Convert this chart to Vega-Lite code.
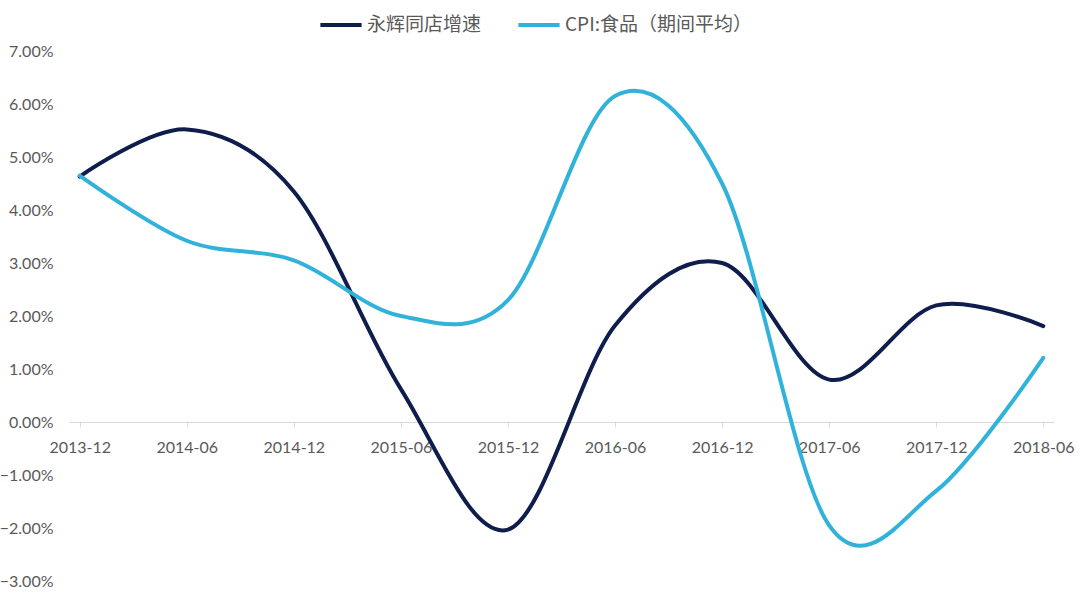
{
  "$schema": "https://vega.github.io/schema/vega-lite/v6.json",
  "autosize": "none",
  "width": 985,
  "height": 530,
  "padding": {"left": 69, "top": 51, "right": 26, "bottom": 34},
  "background": "white",
  "data": {
    "values": [
      {"period": "2013-12", "series": "永辉同店增速", "value": 4.63},
      {"period": "2014-06", "series": "永辉同店增速", "value": 5.52},
      {"period": "2014-12", "series": "永辉同店增速", "value": 4.35},
      {"period": "2015-06", "series": "永辉同店增速", "value": 0.62},
      {"period": "2015-12", "series": "永辉同店增速", "value": -2.03},
      {"period": "2016-06", "series": "永辉同店增速", "value": 1.82},
      {"period": "2016-12", "series": "永辉同店增速", "value": 3.0},
      {"period": "2017-06", "series": "永辉同店增速", "value": 0.8},
      {"period": "2017-12", "series": "永辉同店增速", "value": 2.2},
      {"period": "2018-06", "series": "永辉同店增速", "value": 1.81},
      {"period": "2013-12", "series": "CPI:食品（期间平均）", "value": 4.65},
      {"period": "2014-06", "series": "CPI:食品（期间平均）", "value": 3.42},
      {"period": "2014-12", "series": "CPI:食品（期间平均）", "value": 3.05},
      {"period": "2015-06", "series": "CPI:食品（期间平均）", "value": 2.0},
      {"period": "2015-12", "series": "CPI:食品（期间平均）", "value": 2.3},
      {"period": "2016-06", "series": "CPI:食品（期间平均）", "value": 6.15},
      {"period": "2016-12", "series": "CPI:食品（期间平均）", "value": 4.5},
      {"period": "2017-06", "series": "CPI:食品（期间平均）", "value": -1.95},
      {"period": "2017-12", "series": "CPI:食品（期间平均）", "value": -1.3},
      {"period": "2018-06", "series": "CPI:食品（期间平均）", "value": 1.21}
    ]
  },
  "transform": [{"calculate": "datum.value / 100", "as": "pct"}],
  "mark": {"type": "line", "interpolate": "cardinal", "strokeWidth": 4, "strokeCap": "round"},
  "encoding": {
    "x": {
      "field": "period",
      "type": "ordinal",
      "sort": null,
      "title": null,
      "scale": {"type": "point", "padding": 0.1},
      "axis": {
        "offset": -159,
        "labelAngle": 0,
        "domainColor": "#d9d9d9",
        "tickColor": "#d9d9d9",
        "tickSize": 5,
        "labelPadding": 12,
        "labelFont": "Lato",
        "labelFontSize": 16,
        "labelColor": "#595959",
        "grid": false
      }
    },
    "y": {
      "field": "pct",
      "type": "quantitative",
      "title": null,
      "scale": {"domain": [-0.03, 0.07], "nice": false, "zero": false},
      "axis": {
        "values": [-0.03, -0.02, -0.01, 0, 0.01, 0.02, 0.03, 0.04, 0.05, 0.06, 0.07],
        "format": ".2%",
        "grid": false,
        "domain": false,
        "ticks": false,
        "labelPadding": 16,
        "labelFont": "Lato",
        "labelFontSize": 16,
        "labelColor": "#595959"
      }
    },
    "color": {
      "field": "series",
      "type": "nominal",
      "scale": {
        "domain": ["永辉同店增速", "CPI:食品（期间平均）"],
        "range": ["#0e1d4c", "#30b2da"]
      },
      "legend": {
        "title": null,
        "orient": "none",
        "direction": "horizontal",
        "legendX": 249,
        "legendY": -49,
        "symbolType": "stroke",
        "symbolSize": 1700,
        "symbolStrokeWidth": 4,
        "labelFont": "Noto Sans CJK SC",
        "labelFontSize": 19,
        "labelColor": "#595959",
        "labelLimit": 0,
        "labelOffset": 3,
        "columnPadding": 28
      }
    }
  },
  "config": {"view": {"stroke": null}}
}
